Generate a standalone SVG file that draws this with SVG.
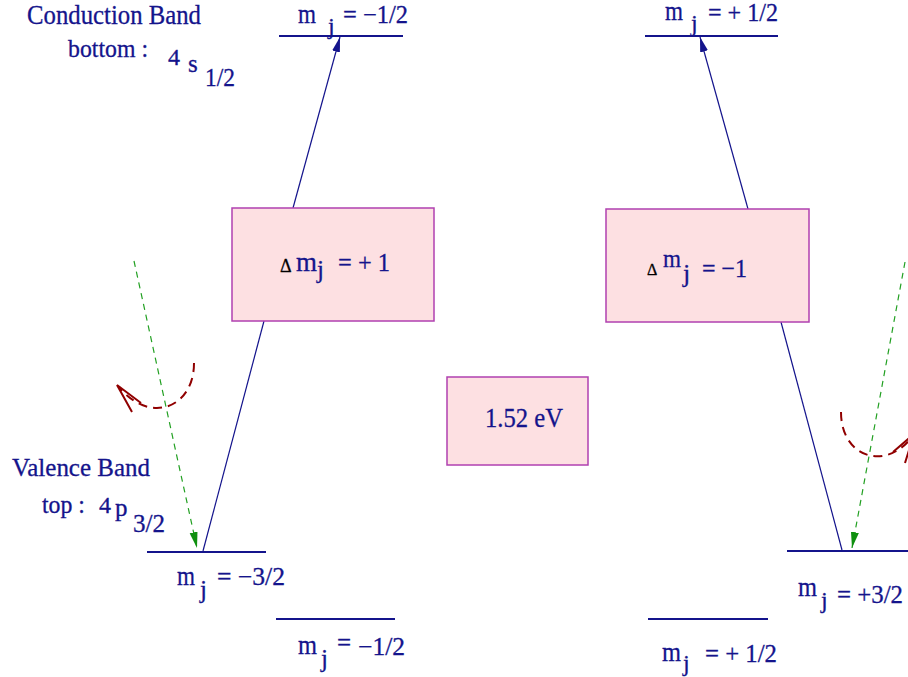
<svg xmlns="http://www.w3.org/2000/svg" width="908" height="677" viewBox="0 0 908 677">
<style>
  text { font-family: "Liberation Serif", "Times New Roman", Times, "Nimbus Roman", "DejaVu Serif", serif; fill: #14148c; stroke: #14148c; stroke-width: 0.3; }
  .delta { fill: #000; stroke: #000; }
  .level { stroke: #14148c; stroke-width: 2; fill: none; }
  .trans { stroke: #14148c; stroke-width: 1.2; fill: none; }
  .photon { stroke: #22a022; stroke-width: 1.2; stroke-dasharray: 6 5; fill: none; }
  .spin { stroke: #900000; stroke-width: 2; stroke-dasharray: 9 6; fill: none; }
  .spinhead { stroke: #900000; stroke-width: 2; fill: none; }
  .box { fill: #fde0e2; stroke: #b040b0; stroke-width: 1.5; }
</style>
<defs>
  <marker id="blueArrow" markerUnits="userSpaceOnUse" markerWidth="16" markerHeight="10" refX="15" refY="4" orient="auto">
    <path d="M0,0 L15,4 L0,8 Z" fill="#14148c"/>
  </marker>
  <marker id="greenArrow" markerUnits="userSpaceOnUse" markerWidth="17" markerHeight="10" refX="16" refY="4" orient="auto">
    <path d="M0,0 L16,4 L0,8 Z" fill="#109010"/>
  </marker>
</defs>

<g id="labels-left">
  <text x="27" y="24" font-size="27" textLength="174" lengthAdjust="spacingAndGlyphs">Conduction Band</text>
  <text x="68" y="57" font-size="26" textLength="80" lengthAdjust="spacingAndGlyphs">bottom :</text>
  <text x="168" y="65" font-size="24">4</text>
  <text x="188" y="72" font-size="25">s</text>
  <text x="205" y="86" font-size="25" textLength="30" lengthAdjust="spacingAndGlyphs">1/2</text>
  <text x="12" y="476" font-size="25" textLength="138" lengthAdjust="spacingAndGlyphs">Valence Band</text>
  <text x="42" y="513" font-size="25" textLength="43" lengthAdjust="spacingAndGlyphs">top :</text>
  <text x="99" y="513" font-size="24">4</text>
  <text x="115" y="516" font-size="25">p</text>
  <text x="133" y="532" font-size="25" textLength="32" lengthAdjust="spacingAndGlyphs">3/2</text>
</g>

<g id="level-cb-minus">
  <line class="level" x1="279" y1="36" x2="403" y2="36"/>
  <text x="298" y="23" font-size="28" textLength="18" lengthAdjust="spacingAndGlyphs">m</text>
  <text x="328" y="34" font-size="24">j</text>
  <text x="343" y="23" font-size="25" textLength="65" lengthAdjust="spacingAndGlyphs">= −1/2</text>
</g>

<g id="level-cb-plus">
  <line class="level" x1="645" y1="36" x2="778" y2="36"/>
  <text x="665" y="20" font-size="28" textLength="18" lengthAdjust="spacingAndGlyphs">m</text>
  <text x="691" y="31" font-size="24">j</text>
  <text x="708" y="21" font-size="25" textLength="70" lengthAdjust="spacingAndGlyphs">= + 1/2</text>
</g>

<g id="level-vb-m32">
  <line class="level" x1="147" y1="552" x2="266" y2="552"/>
  <text x="177" y="585" font-size="28" textLength="18" lengthAdjust="spacingAndGlyphs">m</text>
  <text x="200" y="598" font-size="25">j</text>
  <text x="217" y="585" font-size="25" textLength="68" lengthAdjust="spacingAndGlyphs">= −3/2</text>
</g>

<g id="level-vb-m12">
  <line class="level" x1="276" y1="619" x2="395" y2="619"/>
  <text x="298" y="654" font-size="28" textLength="19" lengthAdjust="spacingAndGlyphs">m</text>
  <text x="321" y="667" font-size="25">j</text>
  <text x="337" y="651" font-size="25">=</text>
  <text x="358" y="655" font-size="25" textLength="47" lengthAdjust="spacingAndGlyphs">−1/2</text>
</g>

<g id="level-vb-p32">
  <line class="level" x1="787" y1="551" x2="908" y2="551"/>
  <text x="798" y="596" font-size="28" textLength="19" lengthAdjust="spacingAndGlyphs">m</text>
  <text x="821" y="608" font-size="24">j</text>
  <text x="837" y="603" font-size="25" textLength="66" lengthAdjust="spacingAndGlyphs">= +3/2</text>
</g>

<g id="level-vb-p12">
  <line class="level" x1="648" y1="619" x2="768" y2="619"/>
  <text x="662" y="661" font-size="28" textLength="19" lengthAdjust="spacingAndGlyphs">m</text>
  <text x="683" y="671" font-size="24">j</text>
  <text x="705" y="662" font-size="25" textLength="72" lengthAdjust="spacingAndGlyphs">= + 1/2</text>
</g>

<g id="connectors">
  <line class="trans" x1="293" y1="208" x2="340" y2="37" marker-end="url(#blueArrow)"/>
  <line class="trans" x1="264" y1="321" x2="203" y2="551"/>
  <line class="trans" x1="748" y1="209" x2="700" y2="37" marker-end="url(#blueArrow)"/>
  <line class="trans" x1="781" y1="322" x2="842" y2="550"/>
  <line class="photon" x1="134" y1="261" x2="197" y2="548" marker-end="url(#greenArrow)"/>
  <line class="photon" x1="905" y1="262" x2="852" y2="548" marker-end="url(#greenArrow)"/>
  <path class="spin" d="M194,363 C194,408 150,425 119,387"/>
  <path class="spinhead" d="M141,403 L117,385 L132,412"/>
  <path class="spin" d="M841,412 C841,457 885,472 912,437"/>
  <path class="spinhead" d="M893,452 L914,434 L905,463"/>
</g>

<g id="box-dm-plus">
  <rect class="box" x="232" y="208" width="202" height="113"/>
  <text x="280" y="272" class="delta" font-size="18">Δ</text>
  <text x="296" y="271" font-size="28" textLength="21" lengthAdjust="spacingAndGlyphs">m</text>
  <text x="317" y="278" font-size="25">j</text>
  <text x="338" y="271" font-size="26" textLength="52" lengthAdjust="spacingAndGlyphs">= + 1</text>
</g>

<g id="box-dm-minus">
  <rect class="box" x="606" y="209" width="203" height="113"/>
  <text x="647" y="275" class="delta" font-size="16">Δ</text>
  <text x="663" y="267" font-size="26" textLength="18" lengthAdjust="spacingAndGlyphs">m</text>
  <text x="683" y="282" font-size="26">j</text>
  <text x="702" y="277" font-size="26" textLength="45" lengthAdjust="spacingAndGlyphs">= −1</text>
</g>

<g id="box-gap">
  <rect class="box" x="447" y="377" width="141" height="88"/>
  <text x="485" y="427" font-size="27" textLength="78" lengthAdjust="spacingAndGlyphs">1.52 eV</text>
</g>
</svg>
